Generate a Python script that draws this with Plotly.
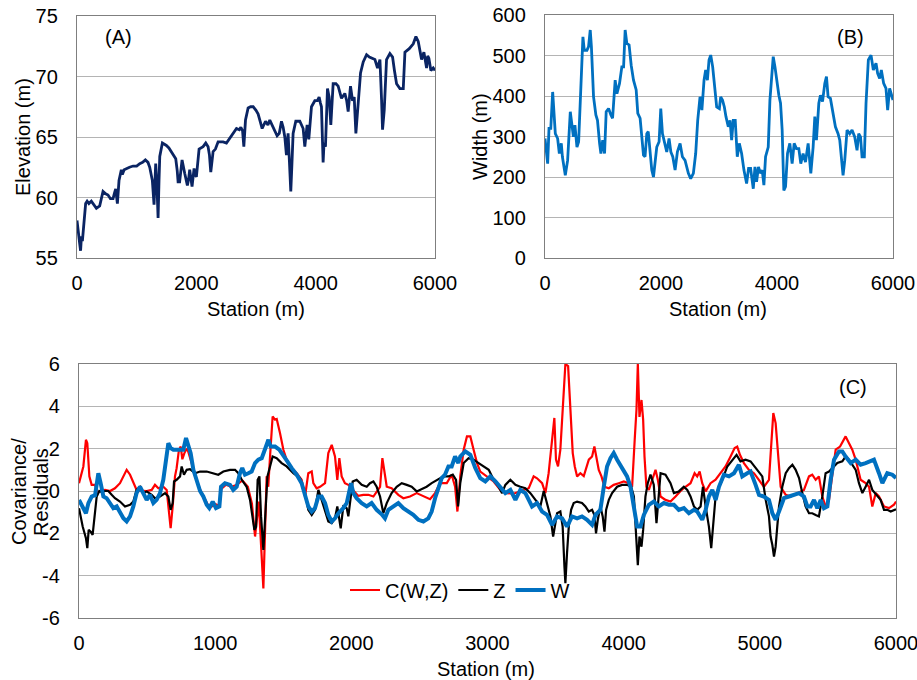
import plotly.graph_objects as go

# ---------------- Panel A: elevation ----------------
a_station = [0, 20, 45, 60, 75, 90, 110, 130, 145, 170, 200, 240, 280, 325, 380, 410, 436, 480, 520, 560,
             604, 630, 649, 677, 704, 743, 760, 790, 827, 880, 939, 1000, 1051, 1100, 1146, 1190, 1219, 1263,
             1291, 1305, 1319, 1340, 1359, 1375, 1387, 1431, 1498, 1540, 1582, 1630, 1655, 1680, 1694, 1720,
             1761, 1805, 1850, 1870, 1889, 1928, 1962, 1980, 2001, 2046, 2113, 2158, 2197, 2220, 2242, 2281,
             2320, 2365, 2449, 2505, 2560, 2617, 2673, 2720, 2746, 2775, 2796, 2824, 2868, 2910, 2952, 3000,
             3036, 3070, 3103, 3159, 3200, 3231, 3260, 3287, 3320, 3354, 3390, 3427, 3455, 3483, 3510, 3538,
             3560, 3583, 3600, 3622, 3667, 3734, 3790, 3818, 3857, 3885, 3930, 3986, 4030, 4058, 4080, 4097,
             4125, 4140, 4164, 4198, 4226, 4254, 4293, 4340, 4377, 4433, 4489, 4520, 4545, 4584, 4618, 4646,
             4674, 4713, 4752, 4797, 4853, 4900, 4937, 4993, 5037, 5077, 5105, 5121, 5149, 5188, 5244, 5289,
             5320, 5356, 5412, 5468, 5496, 5569, 5636, 5680, 5719, 5750, 5775, 5814, 5859, 5878, 5898, 5931,
             5970, 6000]
a_elev = [58.1, 57.0, 56.2, 55.6, 56.8, 56.4, 57.5, 59.0, 59.5, 59.7, 59.5, 59.7, 59.4, 59.1, 59.3, 60.0, 60.5,
          60.3, 60.2, 59.9, 59.9, 60.4, 60.7, 59.5, 61.4, 62.3, 61.9, 62.3, 62.4, 62.5, 62.6, 62.6, 62.8, 62.9,
          63.1, 62.9, 62.5, 61.4, 59.4, 61.0, 62.8, 61.0, 58.3, 61.5, 63.4, 64.5, 64.3, 64.1, 63.8, 63.4, 63.2,
          62.2, 61.3, 61.3, 63.1, 62.0, 61.0, 61.5, 62.3, 60.9, 62.4, 61.9, 61.7, 64.0, 64.2, 64.5, 64.2, 63.5,
          62.1, 63.8, 64.0, 64.6, 64.6, 64.5, 64.9, 65.4, 65.7, 65.6, 65.8, 65.5, 64.2, 66.4, 67.4, 67.5, 67.5,
          67.2, 66.9, 66.3, 65.7, 66.3, 66.0, 66.4, 66.1, 65.7, 65.4, 65.1, 65.3, 66.3, 65.8, 65.0, 63.5, 65.3,
          63.0, 60.5, 62.5, 65.3, 66.3, 66.3, 65.7, 64.2, 66.0, 64.8, 67.5, 68.0, 68.0, 68.3, 67.8, 67.5, 62.9,
          64.5, 64.2, 69.0, 68.3, 66.0, 69.4, 69.4, 69.2, 68.2, 68.6, 68.0, 67.1, 69.2, 68.0, 68.3, 65.3, 68.0,
          70.3, 71.2, 71.8, 71.6, 71.5, 71.4, 70.7, 71.4, 68.0, 65.6, 67.2, 71.4, 71.9, 71.6, 70.5, 69.4, 69.0,
          69.0, 72.0, 72.3, 72.7, 73.3, 72.9, 72.0, 71.4, 72.0, 70.7, 71.7, 71.5, 70.5, 70.7, 70.5]

# ---------------- Panel B: width ----------------
b_station = [0, 46, 69, 100, 132, 150, 178, 218, 247, 281, 300, 350, 390, 436, 465, 490, 516, 551, 580, 620,
             654, 677, 723, 751, 780, 800, 837, 877, 905, 941, 964, 995, 1027, 1055, 1096, 1136, 1165, 1210,
             1240, 1285, 1325, 1355, 1382, 1411, 1450, 1486, 1526, 1572, 1600, 1640, 1670, 1698, 1725, 1755,
             1780, 1801, 1841, 1870, 1900, 1927, 1967, 1996, 2025, 2053, 2099, 2139, 2170, 2203, 2243, 2283,
             2329, 2369, 2415, 2472, 2512, 2558, 2598, 2633, 2673, 2705, 2742, 2770, 2800, 2828, 2857, 2891,
             2931, 2960, 3006, 3029, 3060, 3092, 3120, 3160, 3190, 3218, 3246, 3280, 3315, 3350, 3390, 3430,
             3476, 3510, 3545, 3591, 3620, 3648, 3680, 3717, 3745, 3774, 3803, 3849, 3878, 3905, 3935, 3965,
             3992, 4032, 4061, 4089, 4118, 4147, 4181, 4221, 4261, 4296, 4335, 4376, 4410, 4450, 4491, 4537,
             4583, 4623, 4652, 4680, 4721, 4749, 4785, 4824, 4853, 4881, 4921, 4967, 5007, 5053, 5082, 5139,
             5168, 5208, 5254, 5294, 5340, 5380, 5409, 5440, 5466, 5506, 5535, 5575, 5621, 5661, 5707, 5735,
             5770, 5799, 5839, 5879, 5908, 5942, 6000]
b_width = [295, 233, 320, 320, 410, 373, 307, 295, 258, 283, 250, 204, 241, 361, 324, 299, 328, 274, 287, 439,
           546, 513, 513, 522, 563, 522, 398, 353, 340, 283, 258, 291, 258, 361, 369, 353, 345, 439, 406, 431,
           472, 472, 563, 530, 526, 476, 439, 415, 357, 345, 291, 254, 250, 307, 312, 274, 217, 200, 250, 274,
           287, 369, 307, 287, 262, 295, 262, 250, 217, 262, 283, 250, 241, 209, 196, 209, 258, 340, 398, 365,
           439, 464, 439, 489, 501, 472, 415, 373, 369, 398, 390, 373, 349, 324, 340, 291, 340, 340, 250, 283,
           258, 217, 184, 221, 221, 171, 225, 188, 225, 209, 217, 180, 250, 274, 390, 448, 497, 472, 439, 402,
           382, 316, 167, 176, 258, 283, 233, 283, 270, 270, 233, 258, 237, 283, 209, 274, 349, 291, 382, 402,
           386, 431, 448, 398, 394, 357, 324, 307, 291, 204, 241, 316, 307, 316, 299, 266, 307, 299, 250, 250,
           382, 489, 501, 464, 481, 456, 443, 464, 431, 419, 365, 419, 390]

# ---------------- Panel C: covariance / residuals ----------------
c_cov_station = [0, 32, 51, 61, 76, 93, 118, 135, 154, 191, 228, 264, 301, 330, 350, 375, 399, 423, 448, 497,
                 534, 558, 583, 619, 644, 656, 673, 688, 705, 717, 734, 747, 759, 774, 791, 800, 840, 870, 900,
                 940, 960, 1000, 1030, 1045, 1080, 1120, 1160, 1200, 1240, 1270, 1293, 1320, 1354, 1378, 1390,
                 1403, 1422, 1440, 1452, 1476, 1501, 1525, 1550, 1599, 1635, 1660, 1684, 1709, 1721, 1745, 1770,
                 1807, 1831, 1856, 1880, 1897, 1912, 1929, 1953, 1978, 2015, 2051, 2088, 2125, 2162, 2211, 2228,
                 2242, 2260, 2296, 2345, 2382, 2431, 2480, 2529, 2578, 2615, 2652, 2701, 2737, 2762, 2779, 2800,
                 2825, 2849, 2874, 2898, 2923, 2947, 2996, 3045, 3094, 3143, 3192, 3254, 3303, 3339, 3364, 3401,
                 3425, 3449, 3474, 3491, 3503, 3518, 3535, 3555, 3572, 3592, 3609, 3626, 3641, 3658, 3682, 3707,
                 3744, 3768, 3785, 3800, 3817, 3837, 3859, 3891, 3927, 3964, 4001, 4037, 4062, 4081, 4094, 4104,
                 4116, 4131, 4143, 4153, 4167, 4185, 4209, 4234, 4251, 4271, 4307, 4344, 4381, 4418, 4454, 4491,
                 4521, 4540, 4558, 4577, 4602, 4638, 4675, 4712, 4748, 4785, 4815, 4834, 4854, 4883, 4920, 4957,
                 4994, 5030, 5067, 5084, 5099, 5116, 5133, 5153, 5190, 5226, 5275, 5324, 5361, 5385, 5410, 5434,
                 5459, 5483, 5508, 5532, 5557, 5589, 5613, 5630, 5655, 5679, 5704, 5740, 5777, 5802, 5826, 5851,
                 5875, 5912, 5949, 5985, 6000]
c_cov = [0.37, 1.16, 2.42, 2.26, 0.69, 0.29, 0.29, -0.1, 0.0, 0.05, 0.0, 0.13, 0.37, 0.77, 1.0, 0.77, 0.37,
         0.05, 0.02, 0.0, 0.05, 0.29, 0.13, 0.2, 0.05, -0.73, -1.76, -0.73, 0.69, 1.08, 1.95, 2.1, 1.5, 1.79, 2.0,
         1.9, 1.0, 0.4, -0.1, -0.6, -0.8, -0.62, -0.7, 0.1, 0.3, 0.2, 0.3, 0.5, 0.2, -0.6, -2.15, -0.5, -4.6, 0.7,
         0.2, 1.63, 3.52, 3.37, 3.4, 2.74, 1.95, 1.47, 1.16, 0.84, 0.53, -0.26, 0.84, 0.92, 0.37, 0.13, 0.2, 0.37,
         1.79, 2.18, 1.63, 0.53, 1.55, 0.69, 0.37, 0.29, 0.0, -0.23, -0.18, -0.18, -0.26, 0.2, 1.55, 0.84, 0.2,
         0.13, -0.18, -0.34, -0.26, -0.1, -0.26, -0.39, -0.1, 0.37, 0.37, 0.77, 0.2, -0.97, 0.69, 1.95, 2.58,
         2.58, 1.95, 1.32, 0.92, 0.69, 0.45, 0.05, -0.1, -0.13, 0.0, 0.13, 0.69, 0.6, 0.37, -0.1, 0.84, 2.42,
         3.45, 1.48, 1.16, 1.95, 4.31, 6.0, 5.9, 3.5, 1.79, 1.16, 0.69, 0.84, 0.7, 1.48, 1.63, 2.1, 1.63, 1.0,
         0.69, 0.2, 0.13, 0.29, 0.37, 0.45, 0.37, 0.2, 2.42, 3.84, 6.0, 3.5, 4.3, 3.37, 1.63, 0.2, 0.05, 0.53,
         1.0, 0.53, -0.26, -0.42, -0.5, -0.26, 0.0, 0.2, 0.37, 0.84, 0.69, 0.92, 0.37, -0.02, 0.37, 0.53, 0.84,
         1.16, 1.63, 2.03, 2.1, 1.71, 1.32, 1.0, 0.84, 0.53, 0.2, 0.53, 2.42, 3.68, 3.21, 1.63, 0.2, -0.18,
         -0.26, -0.1, 0.05, 0.69, 0.77, 0.53, 0.69, -0.26, -0.73, -0.42, 0.84, 1.95, 2.1, 2.42, 2.58, 2.26, 1.95,
         1.48, 0.53, 0.37, 0.2, -0.73, -0.1, -0.26, -0.73, -0.81, -0.65, -0.5]

c_z_station = [0, 27, 51, 61, 71, 86, 100, 113, 130, 149, 166, 191, 215, 240, 264, 301, 338, 375, 399, 423, 448,
               472, 497, 534, 558, 595, 632, 656, 673, 688, 698, 717, 742, 754, 771, 791, 815, 852, 889, 938, 987,
               1023, 1060, 1109, 1146, 1170, 1195, 1231, 1256, 1273, 1288, 1300, 1312, 1325, 1337, 1354, 1371,
               1384, 1403, 1422, 1452, 1488, 1525, 1574, 1623, 1660, 1684, 1709, 1733, 1758, 1782, 1807, 1831,
               1856, 1880, 1897, 1912, 1922, 1941, 1966, 1978, 1995, 2010, 2039, 2076, 2113, 2137, 2162, 2186,
               2211, 2235, 2260, 2296, 2333, 2370, 2407, 2443, 2480, 2517, 2553, 2590, 2639, 2676, 2713, 2745,
               2769, 2784, 2800, 2825, 2861, 2898, 2935, 2972, 3009, 3045, 3082, 3107, 3131, 3168, 3205, 3241,
               3278, 3315, 3352, 3388, 3413, 3437, 3462, 3482, 3494, 3511, 3535, 3552, 3565, 3572, 3584, 3597,
               3614, 3633, 3658, 3694, 3719, 3744, 3768, 3785, 3797, 3810, 3829, 3846, 3859, 3871, 3891, 3915,
               3952, 3988, 4025, 4055, 4075, 4092, 4104, 4116, 4131, 4143, 4160, 4177, 4197, 4221, 4241, 4271,
               4307, 4344, 4369, 4405, 4442, 4467, 4491, 4516, 4540, 4565, 4582, 4602, 4626, 4643, 4658, 4675,
               4700, 4724, 4761, 4797, 4829, 4858, 4895, 4932, 4969, 4994, 5018, 5043, 5067, 5079, 5092, 5104,
               5116, 5128, 5141, 5165, 5190, 5214, 5239, 5263, 5288, 5312, 5336, 5361, 5385, 5410, 5434, 5459,
               5483, 5508, 5532, 5569, 5606, 5630, 5655, 5679, 5704, 5728, 5753, 5777, 5802, 5826, 5858, 5887,
               5912, 5936, 5961, 6000]
c_z = [-0.81, -1.68, -2.23, -2.7, -1.84, -1.92, -2.07, -1.2, -0.26, 0.0, -0.05, 0.0, 0.0, -0.18, -0.34, -0.5,
       -0.73, -0.65, -0.5, 0.05, 0.2, -0.1, -0.02, -0.18, -0.34, -0.26, -0.1, -0.26, -0.89, -0.57, 0.45, 0.53,
       0.69, 1.16, 0.77, 1.0, 1.03, 0.84, 0.92, 0.92, 0.84, 0.77, 0.92, 1.0, 1.0, 0.84, 0.53, 0.2, -0.42, -1.2,
       -1.84, -1.7, 0.53, 0.69, -1.2, -2.78, -0.73, 0.69, 1.16, 1.63, 1.55, 1.32, 1.16, 0.84, 0.61, -0.1, -0.89,
       -1.13, -0.89, 0.05, -0.42, -0.89, -1.44, -1.52, -1.29, -0.73, -1.36, -1.76, -0.73, -0.81, -1.2, -0.42,
       0.45, 0.53, 0.29, 0.2, 0.37, 0.45, 0.2, -0.26, -1.05, -0.57, -0.1, 0.2, 0.37, 0.29, 0.2, -0.02, 0.09,
       0.2, 0.37, 0.53, 0.69, 0.69, 0.77, 0.53, -0.73, 0.37, 1.32, 1.55, 1.48, 1.32, 1.16, 1.0, 0.53, 0.2,
       -0.1, 0.29, 0.53, 0.29, 0.2, 0.13, -0.1, -0.42, -0.73, 0.0, -0.55, -1.2, -2.15, -1.68, -1.05, -0.97,
       -1.68, -3.57, -4.36, -2.94, -1.68, -0.89, -0.57, -0.5, -0.57, -0.73, -0.97, -0.89, -1.13, -2.0, -1.36,
       -0.73, -1.2, -1.92, -0.89, -0.42, -0.1, 0.2, 0.29, 0.29, 0.2, -0.26, -2.31, -3.5, -2.15, -2.63, -1.84,
       -0.26, 0.37, 0.77, 0.3, -1.52, 0.84, 0.77, 0.37, -0.1, -0.02, 0.2, 0.05, -0.26, -0.73, -0.89, -0.73,
       0.2, -0.73, -1.68, -2.7, -1.68, -0.26, 0.2, 0.53, 1.16, 1.48, 1.71, 1.4, 1.48, 1.4, 1.08, 0.84, 0.69,
       -0.42, -1.2, -2.15, -2.55, -3.1, -2.63, -1.68, -0.73, 0.2, 0.84, 1.08, 1.24, 1.0, 0.61, -0.1, -0.73,
       -1.05, -1.05, -1.13, -1.2, -0.26, 0.84, 0.92, 1.08, 1.32, 1.4, 1.63, 1.48, 1.24, 1.0, 0.37, -0.1, 0.2,
       0.53, 0.05, -0.18, -0.42, -0.89, -0.89, -0.97, -0.86]

c_w_station = [0, 32, 51, 69, 93, 118, 130, 142, 159, 179, 203, 228, 252, 277, 301, 326, 350, 375, 399, 423,
               448, 472, 497, 521, 546, 570, 595, 619, 639, 656, 673, 693, 730, 766, 786, 803, 820, 840, 864,
               889, 913, 938, 957, 982, 1006, 1031, 1043, 1072, 1109, 1133, 1158, 1182, 1199, 1219, 1243, 1268,
               1293, 1317, 1342, 1366, 1391, 1408, 1440, 1471, 1501, 1530, 1562, 1599, 1635, 1660, 1684, 1709,
               1733, 1758, 1782, 1807, 1831, 1856, 1880, 1905, 1941, 1966, 1985, 1998, 2015, 2039, 2076, 2113,
               2149, 2186, 2223, 2247, 2272, 2308, 2345, 2382, 2419, 2455, 2492, 2529, 2565, 2590, 2615, 2639,
               2664, 2688, 2713, 2737, 2762, 2786, 2800, 2837, 2874, 2911, 2947, 2984, 3021, 3058, 3094, 3131,
               3168, 3205, 3241, 3278, 3303, 3327, 3364, 3401, 3437, 3474, 3511, 3548, 3584, 3621, 3658, 3694,
               3731, 3768, 3793, 3829, 3854, 3878, 3903, 3927, 3952, 3988, 4025, 4050, 4075, 4099, 4123, 4148,
               4185, 4221, 4258, 4295, 4332, 4369, 4405, 4442, 4479, 4516, 4540, 4577, 4602, 4626, 4651, 4675,
               4700, 4736, 4773, 4810, 4846, 4871, 4907, 4932, 4969, 4994, 5030, 5067, 5092, 5116, 5141, 5177,
               5214, 5251, 5288, 5324, 5349, 5373, 5398, 5422, 5447, 5471, 5496, 5520, 5545, 5581, 5606, 5630,
               5667, 5704, 5740, 5777, 5814, 5838, 5875, 5900, 5936, 5973, 6000]
c_w = [-0.42, -0.81, -1.05, -0.57, -0.26, -0.2, 0.53, 0.84, 0.37, -0.26, -0.34, -0.57, -0.81, -0.73, -0.97,
       -1.29, -1.44, -1.2, -0.73, -0.1, 0.2, -0.1, -0.42, -0.18, -0.57, -0.42, -0.1, 0.53, 1.63, 2.26, 2.03,
       1.95, 1.95, 1.95, 2.5, 2.1, 1.79, 1.0, 0.45, 0.0, -0.26, -0.65, -0.81, -0.5, -0.81, -0.73, 0.2, 0.37,
       0.29, 0.05, 0.2, 0.84, 1.08, 0.77, 0.84, 0.92, 1.32, 1.48, 1.55, 1.95, 2.42, 2.1, 2.1, 1.95, 1.63, 1.4,
       1.08, 0.77, 0.37, -0.18, -0.73, -0.97, -0.81, -0.26, -0.26, -0.57, -1.13, -1.44, -1.29, -1.05, -0.81,
       -0.57, -0.1, 0.37, -0.1, -0.34, -0.57, -0.73, -0.57, -0.89, -1.1, -1.29, -0.89, -0.73, -0.57, -0.81,
       -0.97, -1.13, -1.36, -1.44, -1.29, -0.97, -0.34, 0.2, 0.61, 0.77, 1.16, 1.16, 1.63, 1.32, 1.63, 1.87,
       1.71, 1.08, 0.61, 0.45, 0.69, 0.45, 0.2, -0.1, 0.05, -0.42, 0.05, -0.1, -0.42, -0.73, -0.57, -0.97,
       -1.13, -1.6, -1.2, -1.29, -1.68, -1.2, -1.29, -1.2, -1.36, -1.6, -1.13, -0.89, 0.2, 1.16, 1.55, 1.79,
       1.48, 1.08, 0.69, 0.2, -0.73, -1.68, -1.68, -1.13, -0.65, -0.5, -0.73, -0.57, -0.65, -0.65, -0.89,
       -0.81, -1.05, -0.89, -0.97, -1.36, -0.89, -0.26, 0.05, -0.42, 0.2, 0.77, 0.69, 0.84, 1.24, 0.69, 0.84,
       0.92, 0.29, -0.18, -0.26, -0.42, -1.05, -1.36, -0.97, -0.34, -0.26, -0.18, -0.1, -0.26, -0.73, -0.73,
       -0.42, -0.81, -0.42, -0.81, -0.73, 0.53, 1.48, 1.87, 1.87, 1.63, 1.32, 1.48, 1.24, 1.32, 1.4, 1.48,
       0.84, 0.37, 0.84, 0.77, 0.61]

# tick labels of panel C's y axis (plain hyphen minus as in the original)
c_yticks = [-6, -4, -2, 0, 2, 4, 6]
c_yticklabels = ["-6", "-4", "-2", "0", "2", "4", "6"]

# ---------------- figure ----------------
W, H = 917, 680
FONT = "Liberation Sans, Arial, sans-serif"
GRID = "#B4B4B4"
BOX = "#7F7F7F"


def px(x):
    return x / W


def py(y):
    return 1 - y / H


fig = go.Figure()
fig.add_trace(go.Scatter(x=a_station, y=a_elev, mode="lines", line=dict(color="#0A2463", width=2.8),
                         xaxis="x", yaxis="y", showlegend=False))
fig.add_trace(go.Scatter(x=b_station, y=b_width, mode="lines", line=dict(color="#0070C0", width=2.8),
                         xaxis="x2", yaxis="y2", showlegend=False))
fig.add_trace(go.Scatter(x=c_cov_station, y=c_cov, mode="lines", name="C(W,Z)",
                         line=dict(color="#FF0000", width=2.2), xaxis="x3", yaxis="y3"))
fig.add_trace(go.Scatter(x=c_z_station, y=c_z, mode="lines", name="Z",
                         line=dict(color="#000000", width=2.2), xaxis="x3", yaxis="y3"))
fig.add_trace(go.Scatter(x=c_w_station, y=c_w, mode="lines", name="W",
                         line=dict(color="#0070C0", width=4), xaxis="x3", yaxis="y3"))

tickfont = dict(family=FONT, size=20, color="#000000")


def xax(domain, anchor, rng, dtick):
    return dict(domain=domain, anchor=anchor, range=rng, dtick=dtick, showgrid=False, zeroline=False,
                showline=True, mirror=True, linecolor=BOX, linewidth=1.3, ticks="", tickfont=tickfont,
                ticklabelstandoff=7, ticklabeloverflow="allow", fixedrange=True, automargin=False)


def yax(domain, anchor, rng, dtick):
    return dict(domain=domain, anchor=anchor, range=rng, dtick=dtick, showgrid=True, gridcolor=GRID,
                gridwidth=1.3, zeroline=False, showline=True, mirror=True, linecolor=BOX, linewidth=1.3,
                ticks="", tickfont=tickfont, ticklabelstandoff=14, ticklabeloverflow="allow",
                fixedrange=True, automargin=False)


annotations = []


def ann(text, x, y, angle=0, size=20):
    annotations.append(dict(text=text, x=px(x), y=py(y), xref="paper", yref="paper", showarrow=False,
                            textangle=angle, font=dict(family=FONT, size=size, color="#000000"),
                            xanchor="center", yanchor="middle"))


ann("(A)", 118, 37)
ann("(B)", 850, 37)
ann("(C)", 853, 387)
ann("Elevation (m)", 23, 137, -90)
ann("Width (m)", 480, 137, -90)
ann("Covariance/", 19, 492, -90)
ann("Residuals", 41, 492, -90)
ann("Station (m)", 256, 309)
ann("Station (m)", 718, 309)
ann("Station (m)", 486, 669)

yaxis3 = yax([py(618), py(364)], "x3", [-6, 6], 2)
yaxis3.update(tickmode="array", tickvals=c_yticks, ticktext=c_yticklabels)

fig.update_layout(
    width=W, height=H,
    margin=dict(l=0, r=0, t=0, b=0, autoexpand=False),
    paper_bgcolor="white", plot_bgcolor="white",
    font=dict(family=FONT, size=20, color="#000000"),
    xaxis=xax([px(77), px(435)], "y", [0, 6000], 2000),
    yaxis=yax([py(258), py(16)], "x", [55, 75], 5),
    xaxis2=xax([px(545), px(893)], "y2", [0, 6000], 2000),
    yaxis2=yax([py(258), py(15)], "x2", [0, 600], 100),
    xaxis3=xax([px(79), px(896)], "y3", [0, 6000], 1000),
    yaxis3=yaxis3,
    legend=dict(orientation="h", x=px(345), y=py(590), xanchor="left", yanchor="middle",
                bgcolor="rgba(0,0,0,0)", font=dict(family=FONT, size=20, color="#000000"),
                itemwidth=30, tracegroupgap=0),
    annotations=annotations,
)

fig.write_html("out.html")
